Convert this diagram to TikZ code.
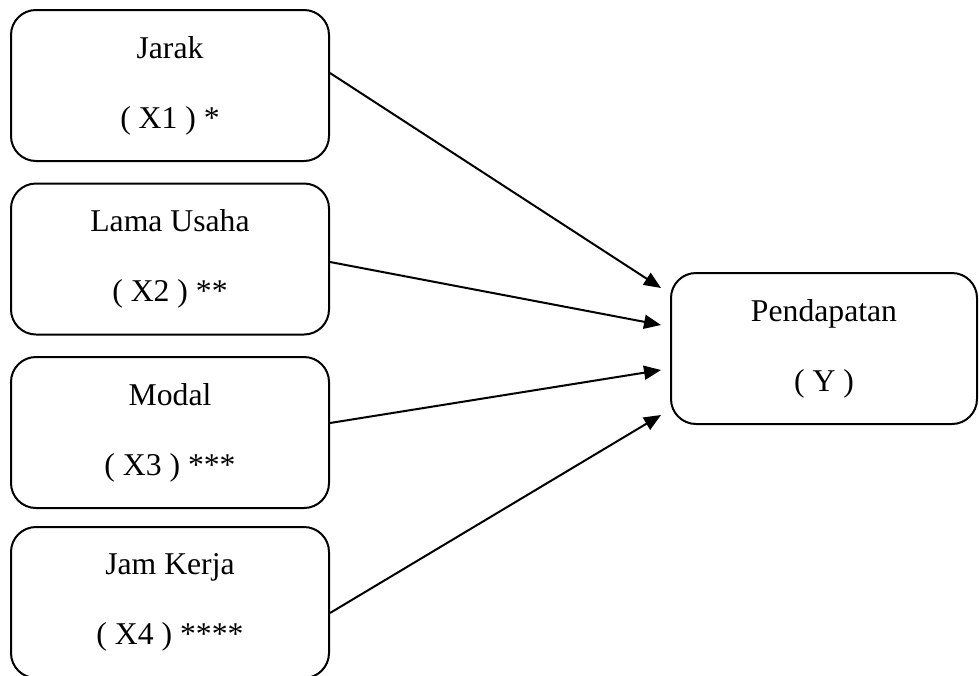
\documentclass[tikz,border=0pt]{standalone}
\usepackage{fontspec}
\setmainfont{Liberation Serif}
\usetikzlibrary{arrows.meta}
\begin{document}
\begin{tikzpicture}[x=1pt,y=-1pt,
  vbox/.style={draw=black, line width=2pt, rounded corners=25pt, align=center,
    inner sep=0pt, font={\fontsize{31.7pt}{70pt}\selectfont}},
  lbox/.style={vbox, minimum width=318pt, minimum height=151pt},
  rbox/.style={vbox, minimum width=306pt, minimum height=151pt},
  conn/.style={line width=2pt, -{Triangle[length=17pt,width=14pt]}}]
\useasboundingbox (0,0) rectangle (979,675);
\clip (0,0) rectangle (979,675);
\node[lbox] (b1) at (170,85.5) {Jarak\\( X1 ) *};
\node[lbox] (b2) at (170,259) {Lama Usaha\\( X2 ) **};
\node[lbox] (b3) at (170,432.5) {Modal\\( X3 ) ***};
\node[lbox] (b4) at (170,602.5) {Jam Kerja\\( X4 ) ****};
\node[rbox] (y) at (824,348.5) {Pendapatan\\( Y )};
\coordinate (e1) at (661,288);
\coordinate (e2) at (661,325);
\coordinate (e3) at (661,370);
\coordinate (e4) at (661,415);
\draw[conn] (b1.east |- 0,73) -- (e1);
\draw[conn] (b2.east |- 0,262) -- (e2);
\draw[conn] (b3.east |- 0,423) -- (e3);
\draw[conn] (b4.east |- 0,613) -- (e4);
\end{tikzpicture}
\end{document}
